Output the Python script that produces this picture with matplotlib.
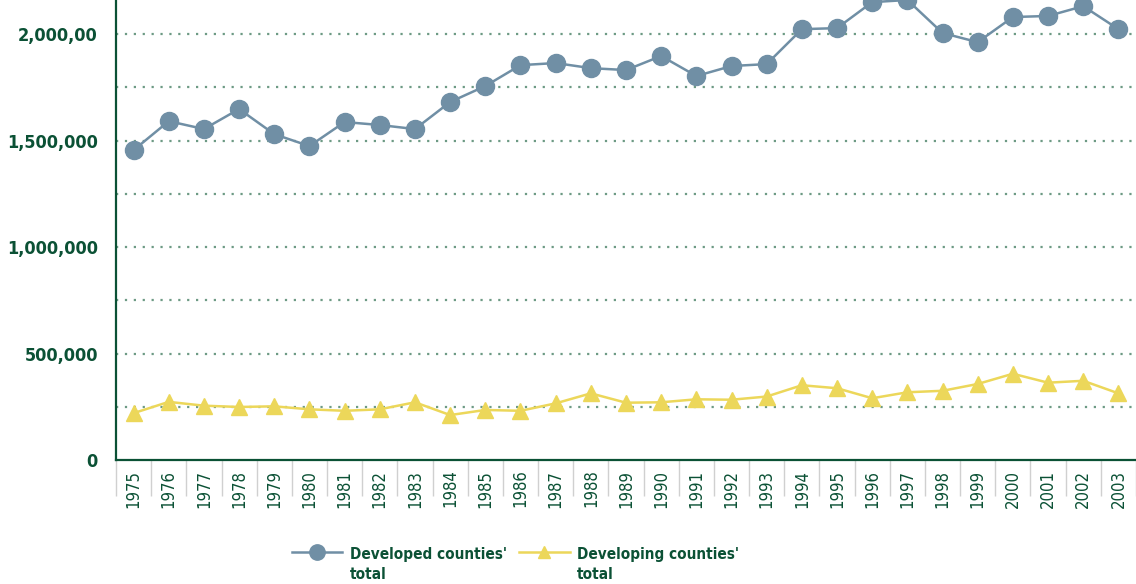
import matplotlib
matplotlib.use('Agg')
import matplotlib.pyplot as plt
from matplotlib.ticker import FixedLocator

plt.rcParams['font.family'] = ['DejaVu Sans']
plt.rcParams['font.stretch'] = 'condensed'

years = [str(y) for y in range(1975, 2004)]
developed = [1455000, 1591000, 1554000, 1648000, 1530000, 1474000, 1587000,
             1573000, 1554000, 1681000, 1756000, 1854000, 1864000, 1840000,
             1831000, 1897000, 1803000, 1850000, 1859000, 2023000, 2028000,
             2150000, 2160000, 2005000, 1962000, 2080000, 2085000, 2131000,
             2023000]
developing = [220000, 273000, 255000, 249000, 252000, 238000, 231000,
              238000, 271000, 211000, 235000, 231000, 266000, 313000,
              269000, 271000, 285000, 283000, 298000, 351000, 337000,
              290000, 318000, 325000, 357000, 405000, 363000, 372000,
              313000]
ytick_vals = [0, 500000, 1000000, 1500000, 2000000]
ytick_labels = ['0', '500,000', '1,000,000', '1,500,000', '2,000,00']
grid_vals = [250000, 500000, 750000, 1000000, 1250000, 1500000,
             1750000, 2000000]

dark = '#0b5135'
blue = '#708fa5'
yellow = '#ecd75a'
gridc = '#6d9a84'

fig = plt.figure(figsize=(11.36, 5.84), dpi=100)
ax = fig.add_axes([116 / 1136, 1 - 460 / 584, 1 - 116 / 1136, 460 / 584])

x = list(range(len(years)))
ax.plot(x, developed, color=blue, lw=1.8, marker='o', ms=13,
        label="Developed counties'\ntotal")
ax.plot(x, developing, color=yellow, lw=1.8, marker='^', ms=11,
        label="Developing counties'\ntotal")

for g in grid_vals:
    ax.axhline(g, color=gridc, lw=1.6, ls=(0, (1, 3)), zorder=0)

ax.set_ylim(0, 2160000)
ax.set_xlim(-0.5, 28.39)

ax.yaxis.set_major_locator(FixedLocator(ytick_vals))
ax.set_yticklabels(ytick_labels)
ax.tick_params(axis='y', length=0, pad=13, labelsize=13, labelcolor=dark)
for t in ax.get_yticklabels():
    t.set_fontweight('bold')

ax.set_xticks(x)
ax.set_xticklabels(years, rotation=90)
ax.set_xticks([i - 0.5 for i in range(len(years) + 1)], minor=True)
ax.tick_params(axis='x', which='major', length=0, pad=7, labelsize=12,
               labelcolor=dark)
ax.tick_params(axis='x', which='minor', length=26, width=1, color='#d0d0d0',
               direction='out')

for s in ['top', 'right']:
    ax.spines[s].set_visible(False)
for s in ['left', 'bottom']:
    ax.spines[s].set_color(dark)
    ax.spines[s].set_linewidth(1.6)

leg = fig.legend(loc='upper left', bbox_to_anchor=(292 / 1136, 1 - 547 / 584),
                 ncol=2, frameon=False, fontsize=11, handlelength=3.3,
                 columnspacing=0.8, handletextpad=0.5, labelspacing=0.2,
                 borderpad=0, borderaxespad=0, markerscale=0.85)
for t in leg.get_texts():
    t.set_color(dark)
    t.set_fontweight('bold')
    t.set_linespacing(1.4)
# put the legend marks level with the first line of each label
for col in leg._legend_handle_box.get_children():
    for item in col.get_children():
        item.align = 'top'

fig.savefig('out.png', dpi=100)
